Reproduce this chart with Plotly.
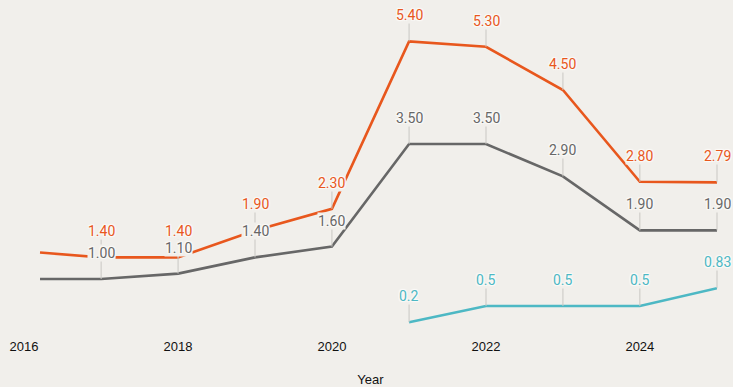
import plotly.graph_objects as go

# Observation dates (first reading falls in March 2016, then yearly)
dates = ["2016-03-17", "2017-01-01", "2018-01-01", "2019-01-01", "2020-01-01",
         "2021-01-01", "2022-01-01", "2023-01-01", "2024-01-01", "2025-01-01"]
orange_vals = [1.49, 1.40, 1.40, 1.90, 2.30, 5.40, 5.30, 4.50, 2.80, 2.79]
gray_vals = [1.00, 1.00, 1.10, 1.40, 1.60, 3.50, 3.50, 2.90, 1.90, 1.90]
teal_dates = ["2021-01-01", "2022-01-01", "2023-01-01", "2024-01-01", "2025-01-01"]
teal_vals = [0.2, 0.5, 0.5, 0.5, 0.83]

BG = "#f1efeb"
ORANGE = "#e8571d"
GRAY = "#676767"
TEAL = "#4db8c4"
STEM = "#c9c7c3"
HALO = "1px 1px 1px #fbfaf8, -1px -1px 1px #fbfaf8, 1px -1px 1px #fbfaf8, -1px 1px 1px #fbfaf8"

fig = go.Figure()
for xs, ys, col in [(dates, orange_vals, ORANGE), (dates, gray_vals, GRAY),
                    (teal_dates, teal_vals, TEAL)]:
    fig.add_trace(go.Scatter(x=xs, y=ys, mode="lines",
                             line=dict(color=col, width=2.6),
                             hoverinfo="skip", showlegend=False))

annotations = []


def add_labels(xs, ys, col, fmt, skip_first):
    start = 1 if skip_first else 0
    for xv, yv in zip(xs[start:], ys[start:]):
        # thin stem rising from the point
        annotations.append(dict(x=xv, y=yv, xref="x", yref="y", text="",
                                showarrow=True, arrowhead=0, arrowwidth=1,
                                arrowcolor=STEM, ax=0, ay=-35, standoff=0))
        # value label sitting on the stem
        annotations.append(dict(x=xv, y=yv, xref="x", yref="y",
                                text=fmt(yv), showarrow=False, yshift=26,
                                yanchor="middle", bgcolor=BG, borderpad=0,
                                font=dict(family="Roboto", size=14, color=col,
                                          shadow=HALO)))


add_labels(dates, orange_vals, ORANGE, lambda v: f"{v:.2f}", True)
add_labels(dates, gray_vals, GRAY, lambda v: f"{v:.2f}", True)
add_labels(teal_dates, teal_vals, TEAL, lambda v: f"{v:g}", False)

fig.update_layout(
    width=733, height=387,
    margin=dict(l=24, r=16, t=30, b=54, autoexpand=False),
    paper_bgcolor=BG, plot_bgcolor=BG,
    annotations=annotations,
    xaxis=dict(type="date", range=["2016-01-01", "2025-01-01"],
               tick0="2016-01-01", dtick="M24", tickformat="%Y",
               showgrid=False, zeroline=False, showline=False, ticks="",
               ticklabelstandoff=4, automargin=False,
               tickfont=dict(family="Liberation Sans", size=13, color="#111"),
               title=dict(text="Year", standoff=24,
                          font=dict(family="Liberation Sans", size=13, color="#111"))),
    yaxis=dict(range=[0, 5.611], visible=False, showgrid=False, zeroline=False),
)

fig.write_html("out.html")
